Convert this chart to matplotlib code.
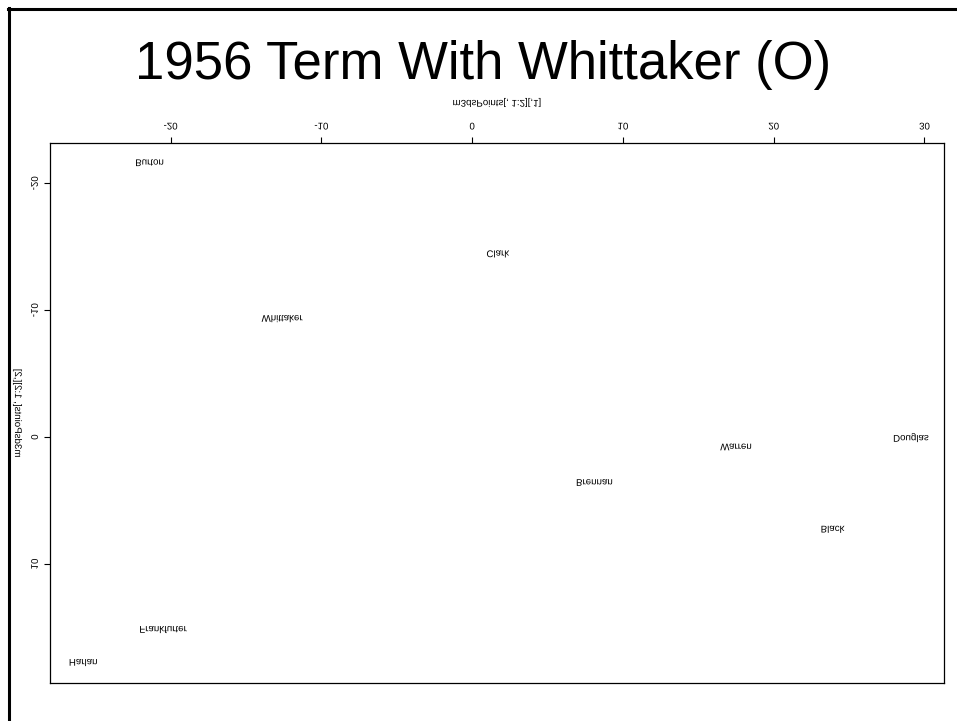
import matplotlib
matplotlib.use("Agg")
import matplotlib.pyplot as plt
from matplotlib.lines import Line2D
from matplotlib.patheffects import AbstractPathEffect
from matplotlib.transforms import Affine2D

# MDS coordinates of the justices (1956 term)
justices = ["Burton", "Clark", "Whittaker", "Warren", "Douglas",
            "Brennan", "Black", "Frankfurter", "Harlan"]
dim1 = [-21.4, 1.7, -12.6, 17.5, 29.1, 8.1, 23.9, -20.5, -25.8]
dim2 = [-21.6, -14.4, -9.3, 0.8, 0.0, 3.6, 7.3, 15.2, 17.8]
xticks = [-20, -10, 0, 10, 20, 30]
yticks = [-20, -10, 0, 10]

plt.rcParams['font.family'] = ['Liberation Sans', 'DejaVu Sans']
plt.rcParams['axes.unicode_minus'] = False


class Mirror(AbstractPathEffect):
    """Draw text glyphs mirrored about the text's own centre line."""
    def __init__(self, axis='y'):
        super().__init__()
        self.axis = axis

    def draw_path(self, renderer, gc, tpath, affine, rgbFace=None):
        bb = tpath.get_extents(affine)
        cx, cy = (bb.x0 + bb.x1) / 2, (bb.y0 + bb.y1) / 2
        sx, sy = (1, -1) if self.axis == 'y' else (-1, 1)
        flip = Affine2D().translate(-cx, -cy).scale(sx, sy).translate(cx, cy)
        renderer.draw_path(gc, tpath, affine + flip, rgbFace)


W, H = 957, 721
fig = plt.figure(figsize=(W / 100, H / 100), dpi=100)
ax = fig.add_axes([50 / W, 38 / H, 894 / W, 540 / H])

flip_h = [Mirror('y')]
flip_v = [Mirror('x')]

for name, x, y in zip(justices, dim1, dim2):
    ax.text(x, y, name, ha='center', va='center', fontsize=7, path_effects=flip_h)

# R-style 4% axis padding, y axis pointing downwards
xr = max(dim1) - min(dim1)
yr = max(dim2) - min(dim2)
ax.set_xlim(min(dim1) - 0.04 * xr, max(dim1) + 0.04 * xr)
ax.set_ylim(max(dim2) + 0.04 * yr, min(dim2) - 0.04 * yr)

ax.xaxis.tick_top()
ax.set_xticks(xticks)
ax.set_yticks(yticks)
ax.tick_params(axis='both', direction='out', length=4.3, width=0.8, labelsize=7)
ax.tick_params(axis='x', pad=4)
ax.tick_params(axis='y', pad=3)
for lab in ax.get_xticklabels():
    lab.set_path_effects(flip_h)
for lab in ax.get_yticklabels():
    lab.set_rotation(90)
    lab.set_va('center')
    lab.set_path_effects(flip_v)
for sp in ax.spines.values():
    sp.set_linewidth(0.9)

ax.set_xlabel("m3dsPoints[, 1:2][,1]", fontsize=7, path_effects=flip_h)
ax.xaxis.set_label_position('top')
ax.xaxis.label.set_va('center')
ax.xaxis.set_label_coords(0.5, (H - 102 - 38) / 540)
ax.set_ylabel("m3dsPoints[, 1:2][,2]", fontsize=7, path_effects=flip_v)
ax.yaxis.label.set_va('center')
ax.yaxis.set_label_coords((17 - 50) / 894, 0.5)

fig.text(483 / W, 1 - 65 / H, "1956 Term With Whittaker (O)",
         ha='center', va='center', fontsize=38)

# partial page frame (top and left edges)
fig.add_artist(Line2D([8 / W, 1], [1 - 8.5 / H, 1 - 8.5 / H],
                      transform=fig.transFigure, color='black', lw=2.2))
fig.add_artist(Line2D([8.5 / W, 8.5 / W], [0, 1 - 8 / H],
                      transform=fig.transFigure, color='black', lw=2.2))

fig.savefig("out.png", dpi=100, facecolor='white')
